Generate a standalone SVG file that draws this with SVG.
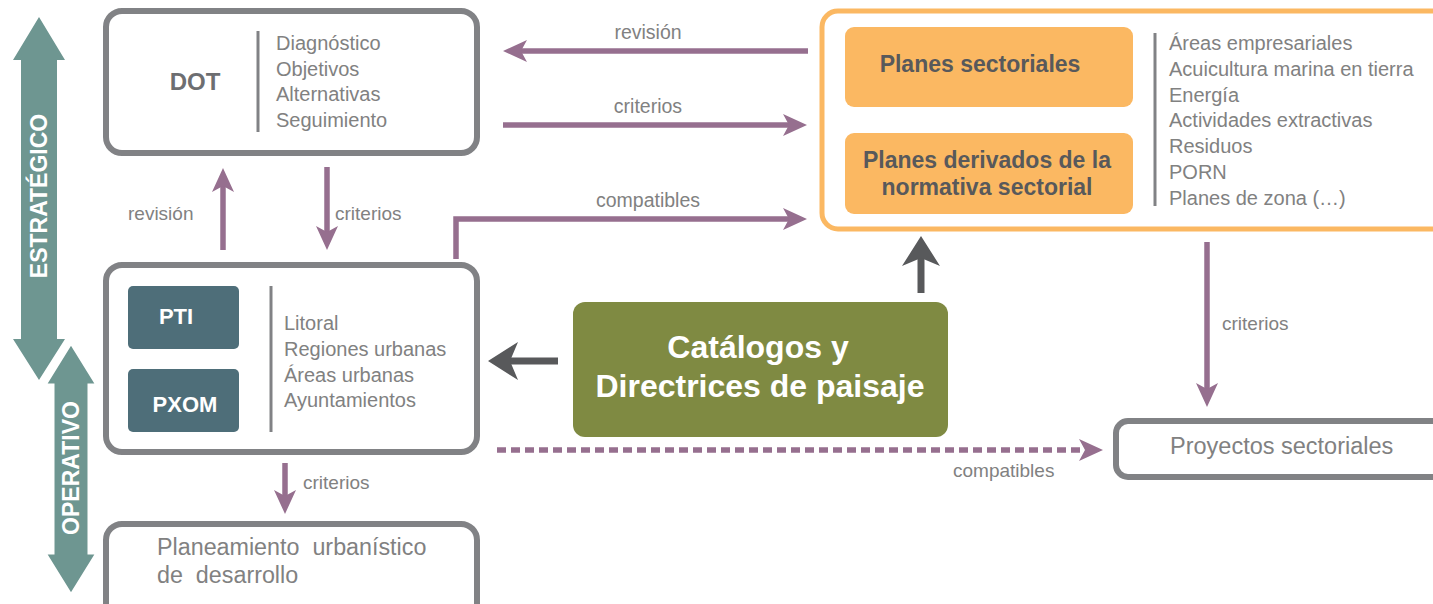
<svg xmlns="http://www.w3.org/2000/svg" width="1433" height="604" viewBox="0 0 1433 604">
<style>
.box{fill:#fff;stroke:#818285;stroke-width:6}
.sep{stroke:#818285;stroke-width:3}
.lst{font-family:"Liberation Sans",Arial,sans-serif;font-size:20px;fill:#818181}
.big{font-family:"Liberation Sans",Arial,sans-serif;fill:#818181}
.lbl{font-family:"Liberation Sans",Arial,sans-serif;font-size:19px;fill:#818181}
.pl{fill:none;stroke:#966f8f;stroke-width:5.5}
.dk{fill:none;stroke:#58595b;stroke-width:7}
.bold{font-family:"Liberation Sans",Arial,sans-serif;font-weight:bold}
.lvl{fill:#6e9691}
</style>
<defs>
<marker id="ap" markerUnits="userSpaceOnUse" viewBox="0 0 24 22" refX="12" refY="11" markerWidth="24" markerHeight="22" orient="auto">
<path d="M0,0 L24,11 L0,22 L6,11 z" fill="#966f8f"/>
</marker>
<marker id="ad" markerUnits="userSpaceOnUse" viewBox="0 0 30 38" refX="15" refY="19" markerWidth="30" markerHeight="38" orient="auto">
<path d="M0,0 L30,19 L0,38 L8,19 z" fill="#58595b"/>
</marker>
</defs>
<rect width="1433" height="604" fill="#fff"/>

<g id="levels">
<polygon class="lvl" points="39,17 65,60 57,60 57,339 65,339 39,380 13,339 21,339 21,60 13,60"/>
<text class="bold" transform="translate(47,196) rotate(-90)" text-anchor="middle" font-size="23" fill="#fff">ESTRATÉGICO</text>
<polygon class="lvl" stroke="#fff" stroke-width="3" points="71,343 97,385 89,385 89,553 97,553 71,595 45,553 53,553 53,385 45,385"/>
<text class="bold" transform="translate(79,468) rotate(-90)" text-anchor="middle" font-size="23" fill="#fff">OPERATIVO</text>
</g>

<g id="connectors">
<line class="pl" x1="808" y1="51" x2="515" y2="51" marker-end="url(#ap)"/>
<line class="pl" x1="503" y1="125" x2="795" y2="125" marker-end="url(#ap)"/>
<path class="pl" d="M456,259 V219 H795" marker-end="url(#ap)"/>
<line class="pl" x1="327" y1="167" x2="327" y2="238" marker-end="url(#ap)"/>
<line class="pl" x1="223" y1="250" x2="223" y2="180" marker-end="url(#ap)"/>
<line class="pl" x1="285" y1="463" x2="285" y2="502" marker-end="url(#ap)"/>
<line class="pl" x1="1207" y1="242" x2="1207" y2="395" marker-end="url(#ap)"/>
<line class="pl" x1="497" y1="450" x2="1091" y2="450" stroke-dasharray="9 5" marker-end="url(#ap)"/>
<line class="dk" x1="558" y1="361" x2="503" y2="361" marker-end="url(#ad)"/>
<line class="dk" x1="921" y1="293" x2="921" y2="251" marker-end="url(#ad)"/>
<text class="lbl" x="648" y="39" text-anchor="middle" style="font-size:19.5px">revisión</text>
<text class="lbl" x="648" y="113" text-anchor="middle" style="font-size:19.5px">criterios</text>
<text class="lbl" x="648" y="207" text-anchor="middle" style="font-size:19.5px">compatibles</text>
<text class="lbl" x="128" y="220">revisión</text>
<text class="lbl" x="335" y="220">criterios</text>
<text class="lbl" x="303" y="489">criterios</text>
<text class="lbl" x="1222" y="330">criterios</text>
<text class="lbl" x="953" y="477">compatibles</text>
</g>

<g id="dot">
<rect class="box" x="106" y="11" width="371" height="142" rx="16"/>
<text class="bold" x="195" y="90" text-anchor="middle" font-size="24" fill="#6d6e71">DOT</text>
<line class="sep" x1="258" y1="31" x2="258" y2="132"/>
<text class="lst" x="276" y="50">Diagnóstico</text>
<text class="lst" x="276" y="76">Objetivos</text>
<text class="lst" x="276" y="101">Alternativas</text>
<text class="lst" x="276" y="127">Seguimiento</text>
</g>

<g id="pti">
<rect class="box" x="106" y="265" width="371" height="187" rx="16"/>
<rect x="128" y="286" width="111" height="63" rx="5" fill="#4e6e79"/>
<text class="bold" x="176" y="324" text-anchor="middle" font-size="22" fill="#fff">PTI</text>
<rect x="128" y="369" width="111" height="63" rx="5" fill="#4e6e79"/>
<text class="bold" x="185" y="412" text-anchor="middle" font-size="22" fill="#fff">PXOM</text>
<line class="sep" x1="271" y1="286" x2="271" y2="432"/>
<text class="lst" x="284" y="330">Litoral</text>
<text class="lst" x="284" y="356">Regiones urbanas</text>
<text class="lst" x="284" y="382">Áreas urbanas</text>
<text class="lst" x="284" y="407">Ayuntamientos</text>
</g>

<g id="planeamiento">
<rect class="box" x="106" y="524" width="371" height="95" rx="16"/>
<text class="big" x="157" y="555" font-size="23.3" xml:space="preserve">Planeamiento  urbanístico</text>
<text class="big" x="157" y="583" font-size="23.3" xml:space="preserve">de  desarrollo</text>
</g>

<g id="sectoriales">
<rect x="822" y="11" width="630" height="218" rx="16" fill="#fff" stroke="#fbb862" stroke-width="5"/>
<rect x="845" y="27" width="288" height="80" rx="9" fill="#fbb862"/>
<text class="bold" x="980" y="72" text-anchor="middle" font-size="23" fill="#58595b">Planes sectoriales</text>
<rect x="845" y="133" width="288" height="81" rx="9" fill="#fbb862"/>
<text class="bold" x="987" y="168" text-anchor="middle" font-size="23" fill="#58595b">Planes derivados de la</text>
<text class="bold" x="987" y="195" text-anchor="middle" font-size="23" fill="#58595b">normativa sectorial</text>
<line class="sep" x1="1155" y1="33" x2="1155" y2="206"/>
<text class="lst" x="1169" y="50">Áreas empresariales</text>
<text class="lst" x="1169" y="76">Acuicultura marina en tierra</text>
<text class="lst" x="1169" y="102">Energía</text>
<text class="lst" x="1169" y="127">Actividades extractivas</text>
<text class="lst" x="1169" y="153">Residuos</text>
<text class="lst" x="1169" y="179">PORN</text>
<text class="lst" x="1169" y="205">Planes de zona (…)</text>
</g>

<g id="catalogos">
<rect x="573" y="302" width="375" height="135" rx="12" fill="#7f8a42"/>
<text class="bold" x="758" y="358" text-anchor="middle" font-size="32" fill="#fff">Catálogos y</text>
<text class="bold" x="760" y="397" text-anchor="middle" font-size="32" fill="#fff">Directrices de paisaje</text>
</g>

<g id="proyectos">
<rect class="box" x="1116" y="421" width="340" height="56" rx="12"/>
<text class="big" x="1170" y="454" font-size="23.5">Proyectos sectoriales</text>
</g>
</svg>
